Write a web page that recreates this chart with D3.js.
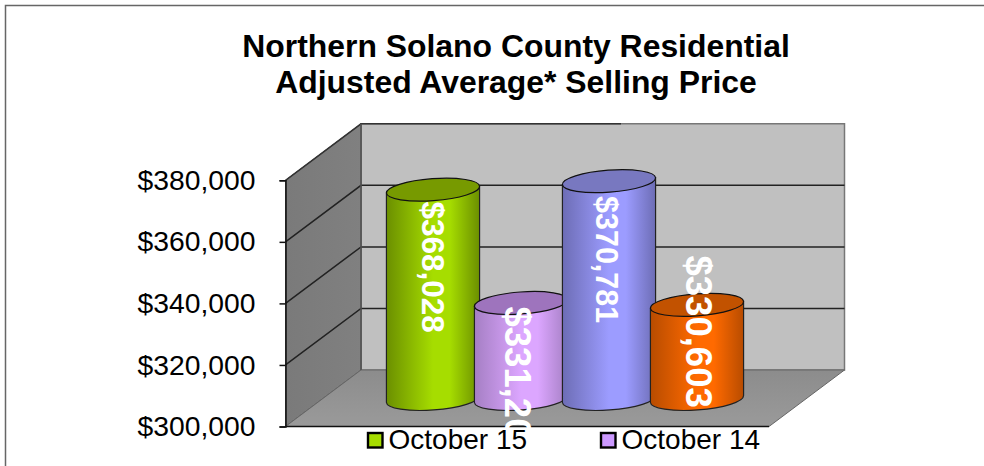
<!DOCTYPE html>
<html lang="en">
<head>
<meta charset="UTF-8">
<title>Northern Solano County Residential</title>
<script src="https://d3js.org/d3.v7.min.js"></script>
<style>
    body { margin: 0; background: #fff; }
    svg { display: block; font-family: "Liberation Sans", Arial, sans-serif; }
</style>
</head>
<body>
<svg width="984" height="466"></svg>
<script>
    // data
    const titleLines = ["Northern Solano County Residential", "Adjusted Average* Selling Price"];
    const barNames = ["Oct 15 A", "Oct 14 A", "Oct 15 B", "Oct 14 B"];
    const barValues = [368028, 331203, 370781, 330603];
    const tickValues = [300000, 320000, 340000, 360000, 380000];
    const legendNames = ["October 15", "October 14"];

    // look
    const bodyEdge = ["#6b8f00", "#a57fc4", "#6d6db5", "#b84c00"];
    const bodyPeak = ["#a6dd00", "#dca6ff", "#9c9cff", "#ff6a00"];
    const topFill = ["#779a00", "#9e74bd", "#7878c0", "#c25200"];
    const legendFill = ["#a6dd00", "#cc99ff"];
    const labelSize = [31.5, 36.5, 30.5, 36.5];
    const labelTop = [201.5, 306.5, 196, 255.5]; // hand placed, like the original
    const labelX = [433, 518, 607, 699];

    const svg = d3.select("svg");

    const yScale = d3.scaleLinear().domain([300000, 380000]).range([426.5, 180.3]);
    const xScale = d3.scalePoint().domain(barNames).range([433, 697]);

    const left = 285.5, right = 769;
    const dx = 75.5, dy = -56.5;   // depth of the box
    const barDy = -27.5;           // bars stand halfway in
    const rx = 46.7, ry = 11, tilt = -4.2;

    const defs = svg.append("defs");
    const wallGrad = defs.append("linearGradient").attr("id", "wall");
    wallGrad.append("stop").attr("offset", "0").attr("stop-color", "#7a7a7a");
    wallGrad.append("stop").attr("offset", "1").attr("stop-color", "#808080");
    const floorGrad = defs.append("linearGradient").attr("id", "floor")
        .attr("x1", 0).attr("y1", 1).attr("x2", 0).attr("y2", 0);
    floorGrad.append("stop").attr("offset", "0").attr("stop-color", "#9a9a9a");
    floorGrad.append("stop").attr("offset", "1").attr("stop-color", "#8c8c8c");

    barNames.forEach((d, i) => {
        const g = defs.append("linearGradient").attr("id", "bar" + i);
        g.append("stop").attr("offset", "0").attr("stop-color", bodyEdge[i]);
        g.append("stop").attr("offset", "0.5").attr("stop-color", bodyPeak[i]);
        g.append("stop").attr("offset", "0.68").attr("stop-color", bodyPeak[i]);
        g.append("stop").attr("offset", "1").attr("stop-color", bodyEdge[i]);
    });

    // frame
    svg.append("path")
        .attr("d", "M5.5,466V5.5H984")
        .attr("fill", "none")
        .attr("stroke", "#666")
        .attr("stroke-width", 1.5);

    // title
    svg.selectAll(".title")
        .data(titleLines)
        .enter()
        .append("text")
        .attr("class", "title")
        .attr("x", 516)
        .attr("y", (d, i) => 57 + i * 36)
        .attr("text-anchor", "middle")
        .attr("font-size", 31.9)
        .attr("font-weight", "bold")
        .text(d => d);

    // box
    const yBottom = yScale(300000), yTop = yScale(380000);
    svg.append("polygon")
        .attr("points", [[left + dx, yBottom + dy], [right + dx, yBottom + dy], [right + dx, yTop + dy], [left + dx, yTop + dy]].join(" "))
        .attr("fill", "#c0c0c0")
        .attr("stroke", "#777")
        .attr("stroke-width", 1.5);
    svg.append("polygon")
        .attr("points", [[left, yBottom], [left + dx, yBottom + dy], [left + dx, yTop + dy], [left, yTop]].join(" "))
        .attr("fill", "url(#wall)")
        .attr("stroke", "#555")
        .attr("stroke-width", 1);
    svg.append("polygon")
        .attr("points", [[left, yBottom], [right, yBottom], [right + dx, yBottom + dy], [left + dx, yBottom + dy]].join(" "))
        .attr("fill", "url(#floor)")
        .attr("stroke", "#666")
        .attr("stroke-width", 1);

    // gridlines
    svg.selectAll(".grid")
        .data(tickValues.slice(1, 4).concat([380000]))
        .enter()
        .append("path")
        .attr("class", "grid")
        .attr("d", d => `M${left},${yScale(d)}L${left + dx},${yScale(d) + dy}` + (d < 380000 ? `H${right + dx}` : "H" + (left + dx + 260)))
        .attr("fill", "none")
        .attr("stroke", d => d < 380000 ? "#222" : "#333")
        .attr("stroke-width", 1.5);
    svg.append("path")
        .attr("d", `M${left + dx},${yBottom + dy}V${yTop + dy}`)
        .attr("stroke", "#555")
        .attr("stroke-width", 1.5);

    // axis
    const axis = svg.append("g")
        .attr("transform", `translate(${left},0)`)
        .call(d3.axisLeft(yScale).tickValues(tickValues).tickFormat(d3.format("$,")).tickSize(6).tickPadding(24));
    axis.selectAll("text").attr("font-size", 28.3).attr("font-family", "Liberation Sans").attr("fill", "#000");
    axis.selectAll("line, path").attr("stroke", "#111").attr("stroke-width", 1.5);
    svg.append("line")
        .attr("x1", left).attr("x2", right)
        .attr("y1", yBottom).attr("y2", yBottom)
        .attr("stroke", "#111").attr("stroke-width", 1.5);

    // cylinders
    const rad = tilt * Math.PI / 180;
    const ex = rx * Math.cos(rad), ey = rx * Math.sin(rad);
    const bars = svg.selectAll(".bar")
        .data(barValues)
        .enter()
        .append("g")
        .attr("class", "bar");

    bars.append("path")
        .attr("d", (d, i) => {
            const cx = xScale(barNames[i]);
            const yT = yScale(d) + barDy, yB = yScale(300000) + barDy;
            return `M${cx - ex},${yT - ey}L${cx - ex},${yB - ey}` +
                `A${rx},${ry} ${tilt} 0 0 ${cx + ex},${yB + ey}L${cx + ex},${yT + ey}Z`;
        })
        .attr("fill", (d, i) => `url(#bar${i})`)
        .attr("stroke", "#222")
        .attr("stroke-width", 1.2);

    bars.append("ellipse")
        .attr("rx", rx)
        .attr("ry", ry)
        .attr("transform", (d, i) => `translate(${xScale(barNames[i])},${yScale(d) + barDy}) rotate(${tilt})`)
        .attr("fill", (d, i) => topFill[i])
        .attr("stroke", "#111")
        .attr("stroke-width", 1.2);

    // value labels
    svg.selectAll(".value")
        .data(barValues)
        .enter()
        .append("text")
        .attr("class", "value")
        .attr("transform", (d, i) => `translate(${labelX[i]},${labelTop[i]}) rotate(90)`)
        .attr("dy", "0.36em")
        .attr("font-size", (d, i) => labelSize[i])
        .attr("font-weight", "bold")
        .attr("fill", "#fff")
        .text(d => d3.format("$,")(d));

    // legend
    const legend = svg.selectAll(".legend")
        .data(legendNames)
        .enter()
        .append("g")
        .attr("class", "legend")
        .attr("transform", (d, i) => `translate(${368 + i * 233},0)`);
    legend.append("rect")
        .attr("y", 433)
        .attr("width", 14.5)
        .attr("height", 14.5)
        .attr("fill", (d, i) => legendFill[i])
        .attr("stroke", "#000")
        .attr("stroke-width", 2.4);
    legend.append("text")
        .attr("x", 20.5)
        .attr("y", 449)
        .attr("font-size", 28)
        .text(d => d);
</script>
</body>
</html>
